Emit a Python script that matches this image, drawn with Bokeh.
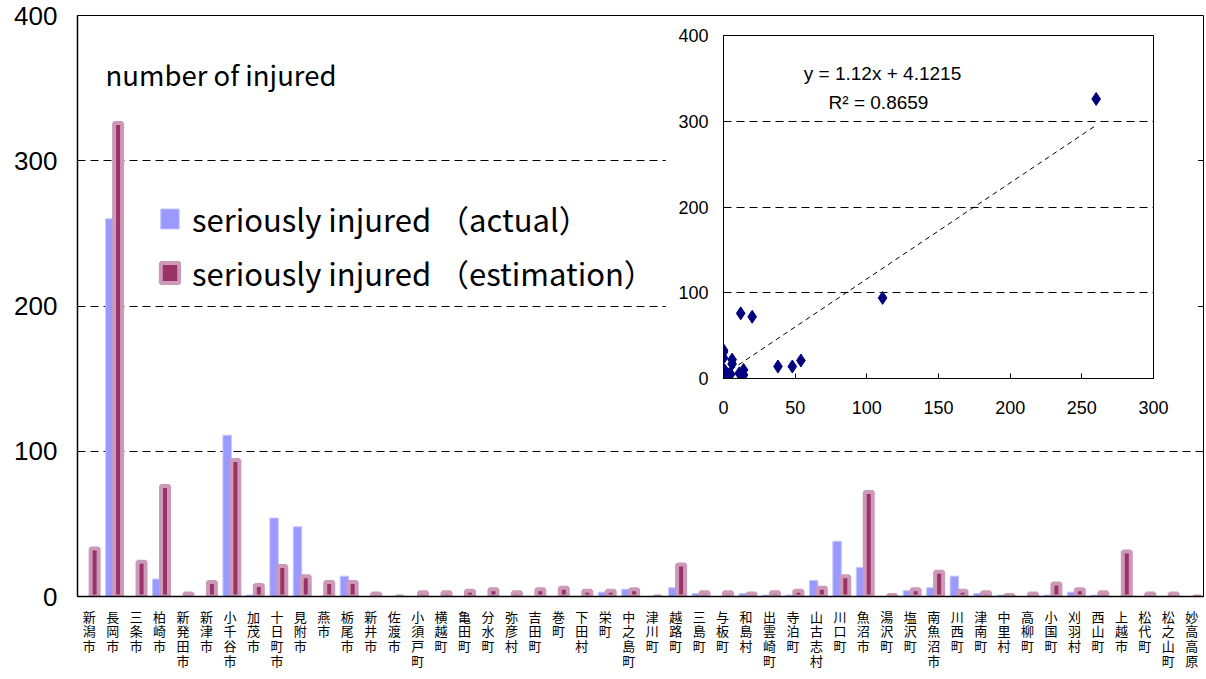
from bokeh.plotting import figure
from bokeh.models import (ColumnDataSource, Label, Legend, LegendItem, GridBox,
                          FixedTicker, Range1d, FactorRange)
from bokeh.transform import dodge
from bokeh.embed import file_html
from bokeh.resources import INLINE

# ---------------- data ----------------
municipalities = [
    "新潟市", "長岡市", "三条市", "柏崎市", "新発田市", "新津市", "小千谷市", "加茂市",
    "十日町市", "見附市", "燕市", "栃尾市", "新井市", "佐渡市", "小須戸町", "横越町",
    "亀田町", "分水町", "弥彦村", "吉田町", "巻町", "下田村", "栄町", "中之島町",
    "津川町", "越路町", "三島町", "与板町", "和島村", "出雲崎町", "寺泊町", "山古志村",
    "川口町", "魚沼市", "湯沢町", "塩沢町", "南魚沼市", "川西町", "津南町", "中里村",
    "高柳町", "小国町", "刈羽村", "西山町", "上越市", "松代町", "松之山町", "妙高高原",
]
actual = [
    0, 260, 0, 12, 0, 0, 111, 1,
    54, 48, 0, 14, 0, 0, 0, 0,
    0, 0, 0, 0, 0, 0, 3, 5,
    0, 6, 2, 0, 2, 1, 1, 11,
    38, 20, 0, 4, 6, 14, 2, 1,
    0, 1, 3, 1, 0, 0, 0, 0,
]
estimation = [
    33, 326, 24, 76, 2, 10, 94, 8,
    21, 14, 10, 10, 2, 0, 3, 3,
    4, 5, 3, 5, 6, 4, 4, 5,
    0, 22, 3, 3, 2, 3, 4, 6,
    14, 72, 1, 5, 17, 4, 3, 1,
    2, 9, 5, 3, 31, 2, 2, 0,
]
y_ticks = [0, 100, 200, 300, 400]
inset_x_ticks = [0, 50, 100, 150, 200, 250, 300]
inset_y_ticks = [0, 100, 200, 300, 400]
slope = 1.12
intercept = 4.1215
r_squared = 0.8659

# vertical (stacked) labels
factors = ["\n".join(name) for name in municipalities]

src = ColumnDataSource(dict(cat=factors, actual=actual, estimation=estimation))

# ---------------- main chart ----------------
p = figure(x_range=FactorRange(factors=factors, range_padding=0),
           y_range=Range1d(0, 400),
           width=1206, height=679, output_backend="svg", toolbar_location=None,
           min_border_left=77, min_border_right=3, min_border_top=15, min_border_bottom=83,
           background_fill_color="white", border_fill_color="white")

r_a = p.vbar(x=dodge("cat", -0.12, range=p.x_range), top="actual", width=0.36, source=src,
             fill_color="#9999FF", line_color="#C4C4FF", line_width=1)
r_e = p.vbar(x=dodge("cat", 0.23, range=p.x_range), top="estimation", width=0.34, source=src,
             fill_color="#993366", line_color="#CC99B8", line_width=4)

p.xgrid.visible = False
p.ygrid.ticker = FixedTicker(ticks=y_ticks)
p.ygrid.grid_line_color = "black"
p.ygrid.grid_line_dash = "8 5"
p.ygrid.grid_line_width = 1

p.yaxis.ticker = FixedTicker(ticks=y_ticks)
p.yaxis.major_label_text_font = "Liberation Sans"
p.yaxis.major_label_text_font_size = "26px"
p.yaxis.major_label_text_color = "black"
p.yaxis.major_tick_out = 0
p.yaxis.major_tick_in = 0
p.yaxis.minor_tick_line_color = None
p.yaxis.major_label_standoff = 20
p.yaxis.axis_line_color = "black"
p.yaxis.axis_line_width = 1.5

p.xaxis.major_label_text_font = "Noto Sans CJK JP"
p.xaxis.major_label_text_font_size = "13px"
p.xaxis.major_label_text_line_height = 0.78
p.xaxis.major_label_text_color = "black"
p.xaxis.major_tick_out = 0
p.xaxis.major_tick_in = 0
p.xaxis.major_label_standoff = 10
p.xaxis.axis_line_color = "black"
p.xaxis.axis_line_width = 1.5

p.outline_line_color = "black"
p.outline_line_width = 1

legend = Legend(items=[LegendItem(label="seriously injured （actual）", renderers=[r_a]),
                       LegendItem(label="seriously injured （estimation）", renderers=[r_e])],
                location=(81, 301), orientation="vertical",
                border_line_color=None, background_fill_alpha=0,
                padding=0, margin=0, spacing=9,
                glyph_width=23, glyph_height=25, label_standoff=11, label_height=25,
                label_text_font="Noto Sans CJK JP", label_text_font_size="31px",
                label_text_color="black")
p.add_layout(legend)

p.add_layout(Label(x=28, y=523, x_units="screen", y_units="screen", text="number of injured",
                   text_font="Noto Sans CJK JP", text_font_size="27.5px", text_baseline="middle",
                   text_color="black"))

# ---------------- inset scatter ----------------
inset = figure(x_range=Range1d(0, 300), y_range=Range1d(0, 400),
               width=533, height=401, output_backend="svg", toolbar_location=None,
               min_border_left=58, min_border_right=45, min_border_top=13, min_border_bottom=45,
               background_fill_color="white", border_fill_color="white")

trend_x = [min(actual), max(actual)]
trend_y = [slope * v + intercept for v in trend_x]
inset.line(trend_x, trend_y, line_color="black", line_dash="5 4", line_width=1)
inset.scatter(actual, estimation, marker="diamond", size=13, color="#000080")

inset.xgrid.visible = False
inset.ygrid.ticker = FixedTicker(ticks=inset_y_ticks)
inset.ygrid.grid_line_color = "black"
inset.ygrid.grid_line_dash = "8 5"

inset.xaxis.ticker = FixedTicker(ticks=inset_x_ticks)
inset.yaxis.ticker = FixedTicker(ticks=inset_y_ticks)
for ax in (inset.xaxis, inset.yaxis):
    ax.major_label_text_font = "Liberation Sans"
    ax.major_label_text_font_size = "18px"
    ax.major_label_text_color = "black"
    ax.minor_tick_line_color = None
    ax.axis_line_color = "black"
    ax.major_tick_out = 0
inset.xaxis.major_tick_in = 5
inset.yaxis.major_tick_in = 0
inset.xaxis.major_label_standoff = 22
inset.yaxis.major_label_standoff = 15
inset.outline_line_color = "black"

inset.add_layout(Label(x=159, y=305, x_units="screen", y_units="screen",
                       text=f"y = {slope}x + {intercept}",
                       text_font="Liberation Sans", text_font_size="19px",
                       text_align="center", text_baseline="middle", text_color="black"))
inset.add_layout(Label(x=155, y=276, x_units="screen", y_units="screen",
                       text=f"R² = {r_squared}",
                       text_font="Liberation Sans", text_font_size="19px",
                       text_align="center", text_baseline="middle", text_color="black"))

layout = GridBox(children=[(p, 0, 0, 3, 3), (inset, 1, 1, 1, 1)],
                 rows=["22px", "401px", "256px"], cols=["665px", "533px", "8px"])

open("out.html", "w").write(file_html(layout, INLINE))
